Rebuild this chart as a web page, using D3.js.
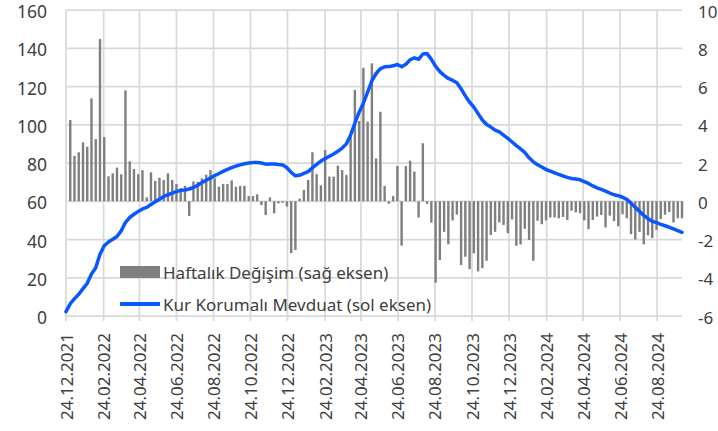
<!DOCTYPE html>
<html>
<head>
<meta charset="utf-8">
<script src="https://cdn.jsdelivr.net/npm/d3@7"></script>
<style>
  html, body { margin: 0; padding: 0; background: #fff; }
  svg text { font-family: "Noto Sans", "Open Sans", sans-serif; fill: #404040; }
</style>
</head>
<body>
<svg id="chart" width="718" height="431"></svg>
<script>
// ---- Data ----
const startDate = "24.12.2021";          // first weekly observation (Friday)
const weekCount = 146;                    // weekly observations

// Kur Korumalı Mevduat (sol eksen), weekly, from 24.12.2021
const kkmValues = [
  2.3, 6.4, 9.1, 11.4, 14.3, 17.1, 22.0, 25.2, 32.3, 36.7,
  38.7, 40.1, 41.6, 44.5, 49.0, 51.5, 53.2, 54.7, 56.0, 56.8,
  58.3, 59.7, 61.1, 62.5, 63.4, 64.2, 65.0, 65.7, 65.9, 66.4,
  67.2, 68.4, 69.8, 71.0, 72.2, 73.4, 74.5, 75.6, 76.7, 77.6,
  78.4, 79.0, 79.6, 80.0, 80.2, 80.3, 80.0, 79.4, 79.5, 79.5,
  79.2, 79.0, 77.5, 75.1, 73.3, 73.6, 74.6, 75.5, 77.5, 79.3,
  81.0, 82.3, 83.5, 84.7, 86.1, 87.8, 90.0, 94.7, 100.8, 106.6,
  111.3, 117.0, 123.0, 126.8, 129.4, 130.3, 130.4, 130.8, 131.5, 130.3,
  131.6, 134.0, 135.0, 134.2, 137.0, 137.2, 134.2, 130.6, 127.8, 125.8,
  124.2, 123.2, 122.0, 118.8, 115.1, 111.8, 109.2, 105.8, 102.5, 100.1,
  98.8, 97.2, 96.3, 94.6, 92.9, 91.0, 89.1, 87.4, 85.5, 82.7,
  80.6, 79.1, 77.9, 76.6, 75.8, 74.9, 74.0, 73.2, 72.5, 71.9,
  71.6, 71.2, 70.3, 69.3, 68.0, 67.0, 66.2, 65.3, 64.3, 63.4,
  62.9, 62.1, 61.0, 59.0, 56.8, 54.7, 52.6, 50.9, 49.5, 48.8,
  47.9, 47.2, 46.4, 45.5, 44.6, 43.7
];

// Haftalık Değişim (sağ eksen), weekly, first week has no change
const weeklyChange = [
  null, 4.25, 2.37, 2.56, 3.08, 2.85, 5.38, 3.25, 8.48, 3.36,
  1.30, 1.46, 1.76, 1.41, 5.80, 2.09, 1.69, 1.41, 1.63, 0.20,
  1.51, 1.06, 1.23, 1.11, 1.46, 1.11, 0.90, 0.68, 0.81, -0.77,
  1.04, 1.01, 1.20, 1.39, 1.63, 1.20, 0.76, 0.90, 0.90, 1.09,
  0.76, 0.80, 0.80, 0.27, 0.27, 0.36, -0.20, -0.72, 0.20, -0.63,
  -0.11, -0.08, -0.28, -2.72, -2.55, 0.14, 0.59, 1.11, 2.56, 1.42,
  0.83, 2.68, 1.29, 1.29, 1.86, 1.63, 1.37, 3.38, 5.82, 4.20,
  6.98, 4.16, 7.21, 2.24, 4.68, 0.80, -0.13, 0.27, 1.84, -2.32,
  1.84, 2.12, 1.55, -0.85, 3.03, -0.14, -1.12, -4.26, -3.08, -1.60,
  -2.25, -1.00, -0.70, -3.33, -2.90, -3.55, -2.72, -3.67, -3.50, -3.11,
  -1.76, -1.60, -1.11, -1.24, -1.67, -0.95, -2.33, -2.26, -1.44, -2.02,
  -3.11, -1.02, -1.20, -1.00, -0.85, -0.85, -0.89, -0.82, -0.98, -0.49,
  -0.58, -0.63, -1.00, -1.46, -0.98, -0.80, -0.72, -1.37, -0.75, -1.04,
  -1.31, -0.68, -0.89, -1.72, -2.00, -1.60, -2.25, -1.78, -1.92, -1.50,
  -0.93, -0.70, -0.56, -1.11, -0.89, -0.89
];

const xTickLabels = [
  "24.12.2021", "24.02.2022", "24.04.2022", "24.06.2022", "24.08.2022",
  "24.10.2022", "24.12.2022", "24.02.2023", "24.04.2023", "24.06.2023",
  "24.08.2023", "24.10.2023", "24.12.2023", "24.02.2024", "24.04.2024",
  "24.06.2024", "24.08.2024"
];
const leftTicks = [0, 20, 40, 60, 80, 100, 120, 140, 160];
const rightTicks = [-6, -4, -2, 0, 2, 4, 6, 8, 10];
const legendLabels = ["Haftalık Değişim (sağ eksen)", "Kur Korumalı Mevduat (sol eksen)"];

// ---- Chart ----
const parse = d3.timeParse("%d.%m.%Y");
const t0 = parse(startDate);
const dates = d3.range(weekCount).map(i => d3.timeDay.offset(t0, 7 * i));

const margin = { left: 66, right: 682, top: 10, bottom: 316 };
const x = d3.scaleTime().domain([dates[0], dates[dates.length - 1]]).range([margin.left, margin.right]);
const yL = d3.scaleLinear().domain([0, 160]).range([margin.bottom, margin.top]);
const yR = d3.scaleLinear().domain([-6, 10]).range([margin.bottom, margin.top]);

const svg = d3.select("#chart");
const gridColor = "#d9d9d9";
const barColor = "#7f7f7f";
const lineColor = "#0a57ff";

// horizontal grid
svg.append("g").selectAll("line").data(leftTicks).join("line")
  .attr("x1", margin.left).attr("x2", margin.right)
  .attr("y1", d => yL(d)).attr("y2", d => yL(d))
  .attr("stroke", gridColor).attr("stroke-width", 1.75);

// vertical grid + ticks
const tickDates = xTickLabels.map(parse);
svg.append("g").selectAll("line").data(tickDates).join("line")
  .attr("x1", d => x(d)).attr("x2", d => x(d))
  .attr("y1", margin.top).attr("y2", margin.bottom + 5)
  .attr("stroke", gridColor).attr("stroke-width", 1.75);

// bars
const barW = 2.4;
const barData = weeklyChange.map((v, i) => ({ d: dates[i], v })).filter(o => o.v !== null);
svg.append("g").selectAll("rect").data(barData).join("rect")
  .attr("x", o => x(o.d) - barW / 2)
  .attr("width", barW)
  .attr("y", o => Math.min(yR(o.v), yR(0)))
  .attr("height", o => Math.abs(yR(o.v) - yR(0)))
  .attr("fill", barColor);

// line
const line = d3.line().x((v, i) => x(dates[i])).y(v => yL(v)).curve(d3.curveLinear);
svg.append("path").datum(kkmValues)
  .attr("d", line).attr("fill", "none")
  .attr("stroke", lineColor).attr("stroke-width", 3.5)
  .attr("stroke-linejoin", "round").attr("stroke-linecap", "round");

// left axis labels
svg.append("g").selectAll("text").data(leftTicks).join("text")
  .attr("x", 47).attr("y", d => yL(d) + 1)
  .attr("text-anchor", "end").attr("dominant-baseline", "central")
  .style("font-size", "17.5px").text(d => d);

// right axis labels
svg.append("g").selectAll("text").data(rightTicks).join("text")
  .attr("x", 698).attr("y", d => yR(d) + 1)
  .attr("text-anchor", "start").attr("dominant-baseline", "central")
  .style("font-size", "17px").text(d => d);

// x labels
svg.append("g").selectAll("text").data(xTickLabels).join("text")
  .attr("transform", d => `translate(${x(parse(d))},333) rotate(-90)`)
  .attr("text-anchor", "end").attr("dominant-baseline", "central")
  .style("font-size", "17px").text(d => d);

// legend
const lg = svg.append("g");
lg.append("rect").attr("x", 120).attr("y", 266).attr("width", 40).attr("height", 12).attr("fill", barColor);
lg.append("text").attr("x", 163).attr("y", 272).attr("dominant-baseline", "central")
  .style("font-size", "17px").text(legendLabels[0]);
lg.append("line").attr("x1", 120).attr("x2", 160).attr("y1", 304).attr("y2", 304)
  .attr("stroke", lineColor).attr("stroke-width", 4);
lg.append("text").attr("x", 163).attr("y", 304).attr("dominant-baseline", "central")
  .style("font-size", "17px").text(legendLabels[1]);
</script>
</body>
</html>
